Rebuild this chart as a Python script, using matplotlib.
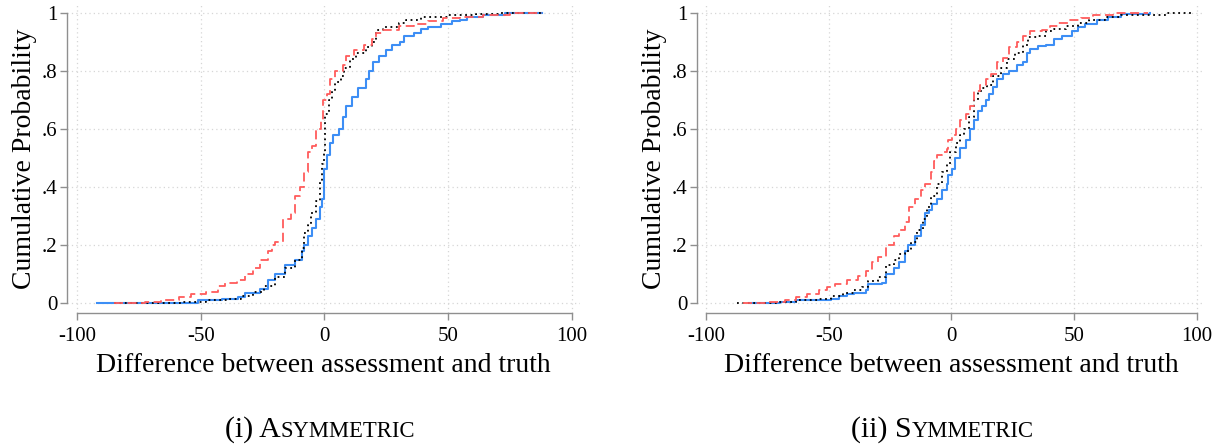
# cdf_panels.py
"""
Draws the two-panel empirical CDF figure (asymmetric vs symmetric)
of the difference between assessment and truth, Stata-like styling.
"""
import matplotlib
matplotlib.use("Agg")
import matplotlib.pyplot as plt

# ---- panel (i): asymmetric ----
asym_blue_x = [-92, -51, -41.5, -35, -32, -26, -23, -20, -16, -12, -9, -8.2, -6.7, -5, -3.6, -2, -1,
               0, 1, 2.2, 3.4, 5.7, 7.3, 8.8, 11, 13.5, 16.6, 18, 19.7, 22, 25, 27.4, 30.5, 32,
               36, 39, 42, 47, 51.5, 54.6, 57.7, 64, 73, 88]
asym_blue_y = [0, 0.01, 0.015, 0.02, 0.035, 0.05, 0.08, 0.10, 0.13, 0.15, 0.18, 0.20, 0.23, 0.26,
               0.29, 0.33, 0.36, 0.46, 0.51, 0.55, 0.58, 0.60, 0.64, 0.68, 0.71, 0.74, 0.77, 0.80,
               0.83, 0.85, 0.87, 0.89, 0.90, 0.92, 0.93, 0.945, 0.95, 0.96, 0.97, 0.975, 0.985,
               0.99, 0.997, 1.0]

asym_red_x = [-85, -72.6, -66, -58.6, -54, -47.8, -43, -40, -35.3, -32, -29, -26, -23, -21.4, -19.8,
              -16.7, -13.6, -12, -9.8, -8.2, -6.7, -5.1, -3.6, -1.6, -0.5, 1, 2.2, 4.2, 7.3, 8.8,
              12, 15.8, 19, 21, 23.6, 30, 36, 42, 48, 54.6, 64, 75, 88]
asym_red_y = [0, 0.003, 0.01, 0.02, 0.03, 0.04, 0.06, 0.07, 0.08, 0.10, 0.12, 0.15, 0.18, 0.20,
              0.21, 0.29, 0.31, 0.37, 0.40, 0.45, 0.52, 0.54, 0.60, 0.63, 0.70, 0.72, 0.77, 0.80,
              0.82, 0.85, 0.87, 0.89, 0.91, 0.93, 0.94, 0.955, 0.96, 0.97, 0.98, 0.985, 0.99,
              0.997, 1.0]

asym_black_x = [-85, -57, -47.8, -38.4, -33.8, -29, -24.5, -19.8, -16, -12, -9, -8.2, -6.7, -5.6,
                -3.6, -2, -1, 0, 0.3, 1.9, 3.1, 4.2, 6.5, 8, 10.4, 12.7, 16.6, 19, 21, 23.6, 30,
                33, 39, 50, 61, 70, 88]
asym_black_y = [0, 0.005, 0.01, 0.015, 0.025, 0.04, 0.06, 0.09, 0.12, 0.15, 0.19, 0.24, 0.27,
                0.31, 0.35, 0.42, 0.48, 0.52, 0.65, 0.70, 0.73, 0.76, 0.78, 0.81, 0.84, 0.86,
                0.88, 0.90, 0.94, 0.95, 0.965, 0.975, 0.985, 0.99, 0.995, 0.998, 1.0]

# ---- panel (ii): symmetric ----
sym_blue_x = [-82.6, -70, -63.5, -49, -46, -42.7, -39.5, -34.8, -34, -28.4, -26.8, -23.6, -21.2,
              -19, -17.5, -14.8, -12.4, -10.8, -9.2, -8, -6, -3.7, -2, -1.3, 0.3, 1.6, 3.5, 5.9,
              7.5, 9, 10.7, 12.3, 13.9, 15.5, 17, 18.7, 21, 23.4, 26.6, 29, 30.6, 32.2, 35.4,
              38.6, 41.8, 45, 49, 51.4, 54.5, 59.3, 64, 69, 81]
sym_blue_y = [0, 0.005, 0.01, 0.015, 0.025, 0.03, 0.035, 0.045, 0.065, 0.07, 0.10, 0.12, 0.14,
              0.18, 0.20, 0.23, 0.27, 0.31, 0.32, 0.34, 0.36, 0.39, 0.41, 0.44, 0.46, 0.50,
              0.535, 0.56, 0.60, 0.63, 0.66, 0.68, 0.70, 0.72, 0.745, 0.77, 0.79, 0.80, 0.82,
              0.83, 0.86, 0.875, 0.885, 0.89, 0.91, 0.92, 0.935, 0.95, 0.96, 0.975, 0.985,
              0.995, 1.0]

sym_red_x = [-85, -74.6, -68, -63.5, -58.7, -54, -50.7, -47.5, -42.7, -38, -34.8, -32.4, -30,
             -26.8, -23.6, -21.2, -18.8, -17.2, -14.8, -12.4, -10.8, -8.5, -6.9, -6, -3.7, -2,
             -1.3, 0.3, 1.9, 3.5, 5.9, 7.5, 9, 11.5, 13.9, 16.3, 18.7, 21, 23.4, 26.6, 29, 32.2,
             37, 40.2, 43.4, 48, 53, 57.7, 65.7, 80]
sym_red_y = [0, 0.003, 0.01, 0.02, 0.03, 0.045, 0.055, 0.065, 0.08, 0.095, 0.11, 0.14, 0.16,
             0.20, 0.23, 0.25, 0.28, 0.33, 0.36, 0.39, 0.41, 0.45, 0.49, 0.51, 0.52, 0.53, 0.56,
             0.58, 0.60, 0.63, 0.65, 0.68, 0.73, 0.75, 0.77, 0.79, 0.83, 0.845, 0.88, 0.90,
             0.92, 0.935, 0.94, 0.955, 0.965, 0.975, 0.98, 0.99, 0.997, 1.0]

sym_black_x = [-87.4, -71.5, -63.5, -54, -49, -44.3, -39.5, -36.4, -34, -30, -26.8, -23.6, -21.2,
               -18.8, -16.4, -14, -11.6, -10, -8.5, -6, -3.7, -2, -0.5, 1.9, 3.5, 5.1, 7, 9,
               10.7, 12.3, 14.7, 17, 20.3, 22.6, 25.8, 29, 31.4, 35.4, 38.6, 41.8, 46.6, 51.4,
               56, 62.5, 69, 78.5, 88, 97.6]
sym_black_y = [0, 0.005, 0.01, 0.015, 0.025, 0.035, 0.045, 0.055, 0.075, 0.09, 0.13, 0.15, 0.17,
               0.18, 0.21, 0.25, 0.29, 0.33, 0.37, 0.41, 0.45, 0.48, 0.52, 0.55, 0.58, 0.60,
               0.64, 0.70, 0.73, 0.74, 0.75, 0.78, 0.81, 0.84, 0.86, 0.89, 0.915, 0.92, 0.935,
               0.945, 0.955, 0.965, 0.975, 0.985, 0.99, 0.993, 0.997, 1.0]

x_ticks = [-100, -50, 0, 50, 100]
x_tick_labels = ["-100", "-50", "0", "50", "100"]
y_ticks = [0, 0.2, 0.4, 0.6, 0.8, 1.0]
y_tick_labels = ["0", ".2", ".4", ".6", ".8", "1"]
captions = [("(i) A", "SYMMETRIC"), ("(ii) S", "YMMETRIC")]

BLUE = "#3d8ef5"
RED = "#ff5c5c"
AXIS_GRAY = "#8f8f8f"
GRID_GRAY = "#d6d6d6"
SERIF = "Liberation Serif"

plt.rcParams['font.family'] = [SERIF, 'DejaVu Serif']


def draw_panel(ax, blue, red, black, xlim):
    # grid first so curves sit on top
    for yv in y_ticks:
        ax.axhline(yv, color=GRID_GRAY, lw=0.9, ls=(0, (1, 2.5)), zorder=0)
    for xv in x_ticks:
        ax.axvline(xv, color=GRID_GRAY, lw=0.9, ls=(0, (1, 2.5)), zorder=0)

    ax.step(blue[0], blue[1], where='post', color=BLUE, lw=1.5, zorder=2)
    ax.step(black[0], black[1], where='post', color='black', lw=1.3,
            ls=(0, (1, 2)), zorder=3)
    ax.step(red[0], red[1], where='post', color=RED, lw=1.3,
            ls=(0, (5, 2.5)), zorder=4)

    ax.set_xlim(*xlim)
    ax.set_ylim(-0.034, 1.026)

    # Stata style: bounded axis lines, no top/right
    for side in ['top', 'right']:
        ax.spines[side].set_visible(False)
    ax.spines['left'].set_bounds(0, 1)
    ax.spines['bottom'].set_bounds(-100, 100)
    for side in ['left', 'bottom']:
        ax.spines[side].set_color(AXIS_GRAY)
        ax.spines[side].set_linewidth(1.0)

    ax.set_xticks(x_ticks)
    ax.set_xticklabels(x_tick_labels)
    ax.set_yticks(y_ticks)
    ax.set_yticklabels(y_tick_labels)
    ax.tick_params(axis='both', colors=AXIS_GRAY, labelcolor='black',
                   labelsize=15, length=5, width=1.0, pad=2)
    ax.tick_params(axis='x', pad=5)
    ax.set_xlabel("Difference between assessment and truth", fontsize=20, labelpad=5)
    ax.set_ylabel("Cumulative Probability", fontsize=20, labelpad=3)


def draw_caption(fig, renderer, big, small, xc, yc, size=21.5):
    """Fake small caps: first chunk at full size, rest smaller."""
    t1 = fig.text(0, yc, big, fontsize=size, family=SERIF, va='baseline')
    t2 = fig.text(0, yc, small, fontsize=size * 0.76, family=SERIF, va='baseline')
    w1 = t1.get_window_extent(renderer).width / fig.bbox.width
    w2 = t2.get_window_extent(renderer).width / fig.bbox.width
    x0 = xc - (w1 + w2) / 2
    t1.set_x(x0)
    t2.set_x(x0 + w1)


fig = plt.figure(figsize=(12.27, 4.46), dpi=100)
ax1 = fig.add_axes([0.0546, 0.2982, 0.4181, 0.6906])
ax2 = fig.add_axes([0.5680, 0.2982, 0.4140, 0.6906])

draw_panel(ax1, (asym_blue_x, asym_blue_y), (asym_red_x, asym_red_y),
           (asym_black_x, asym_black_y), (-104.0, 103.2))
draw_panel(ax2, (sym_blue_x, sym_blue_y), (sym_red_x, sym_red_y),
           (sym_black_x, sym_black_y), (-103.7, 103.3))

renderer = fig.canvas.get_renderer()
draw_caption(fig, renderer, captions[0][0], captions[0][1], 320 / 1227, 1 - 437 / 446)
draw_caption(fig, renderer, captions[1][0], captions[1][1], 942 / 1227, 1 - 437 / 446)

fig.savefig("out.png", dpi=100)
plt.close(fig)
